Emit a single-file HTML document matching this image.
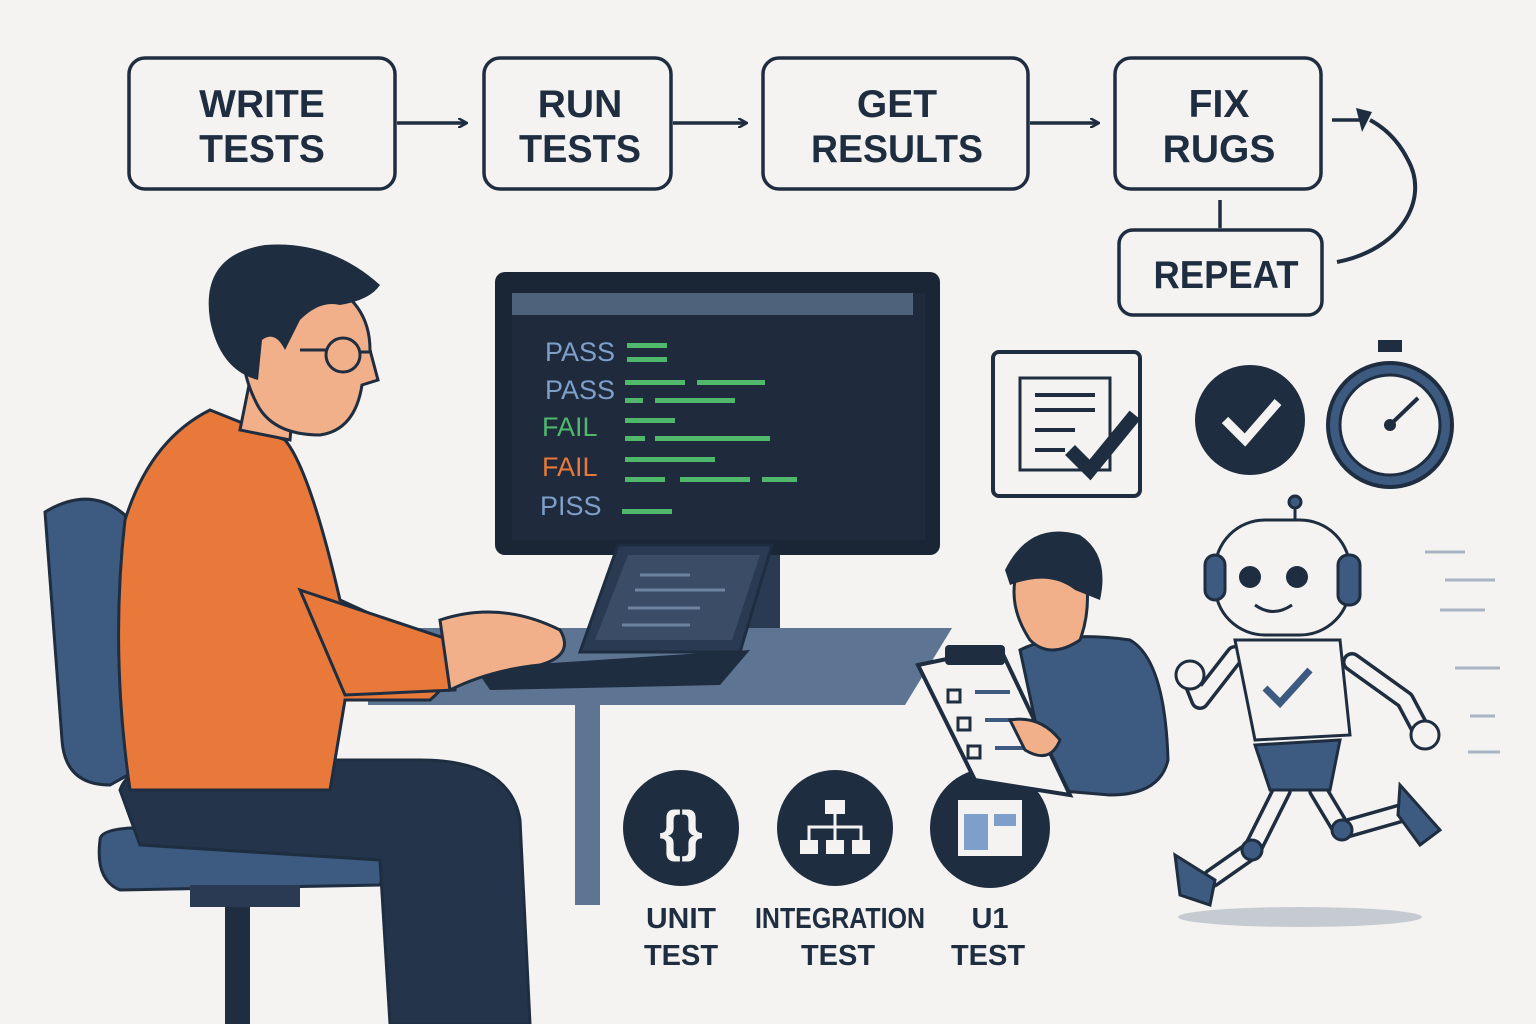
<!DOCTYPE html>
<html><head><meta charset="utf-8"><style>
html,body{margin:0;padding:0;background:#f4f3f1;}
svg{display:block;}
text{font-family:"Liberation Sans",sans-serif;font-weight:bold;fill:#1e2d40;}
</style></head><body>
<svg width="1536" height="1024" viewBox="0 0 1536 1024" xmlns="http://www.w3.org/2000/svg">
<rect width="1536" height="1024" fill="#f4f3f1"/>
<defs>
<marker id="ah" markerWidth="10" markerHeight="10" refX="8" refY="5" orient="auto" markerUnits="userSpaceOnUse"><path d="M0,0 L9,5 L0,10" fill="none" stroke="#1e2d40" stroke-width="2.5"/></marker>
</defs>
<g fill="none" stroke="#1e2d40" stroke-width="3.5">
<rect x="129" y="58" width="266" height="131" rx="16"/>
<rect x="484" y="58" width="187" height="131" rx="16"/>
<rect x="763" y="58" width="265" height="131" rx="16"/>
<rect x="1115" y="58" width="206" height="131" rx="16"/>
<rect x="1119" y="230" width="203" height="85" rx="14"/>
<path d="M397 123 H466" marker-end="url(#ah)"/>
<path d="M673 123 H746" marker-end="url(#ah)"/>
<path d="M1030 123 H1098" marker-end="url(#ah)"/>
<path d="M1220 200 V228"/>
<path d="M1332 120 H1360"/>
<path d="M1337 262 C1400 250 1430 200 1408 160 C1398 140 1385 128 1370 120" stroke-width="4"/>
</g>
<path d="M1356 108 L1372 112 L1362 132 Z" fill="#1e2d40"/>
<g font-size="39" text-anchor="middle">
<text x="262" y="117">WRITE</text><text x="262" y="162">TESTS</text>
<text x="580" y="117">RUN</text><text x="580" y="162" textLength="122" lengthAdjust="spacingAndGlyphs">TESTS</text>
<text x="897" y="117">GET</text><text x="897" y="162" textLength="172" lengthAdjust="spacingAndGlyphs">RESULTS</text>
<text x="1219" y="117">FIX</text><text x="1219" y="162">RUGS</text>
<text x="1226" y="288" textLength="145" lengthAdjust="spacingAndGlyphs">REPEAT</text>
</g>
<!-- monitor -->
<rect x="720" y="545" width="60" height="100" fill="#2a3a52"/>
<rect x="700" y="636" width="104" height="16" fill="#1e2d40"/>
<rect x="495" y="272" width="445" height="283" rx="10" fill="#1a2536"/>
<rect x="512" y="293" width="413" height="247" fill="#1f2b3d"/>
<rect x="512" y="293" width="401" height="22" fill="#4f627b"/>
<g font-size="27">
<text x="545" y="361" style="fill:#7f9fcb;font-weight:normal">PASS</text>
<text x="545" y="399" style="fill:#7f9fcb;font-weight:normal">PASS</text>
<text x="542" y="436" style="fill:#4fb86a;font-weight:normal">FAIL</text>
<text x="542" y="476" style="fill:#e8793a;font-weight:normal">FAIL</text>
<text x="540" y="515" style="fill:#7f9fcb;font-weight:normal">PISS</text>
</g>
<g fill="#4fb86a">
<rect x="627" y="343" width="40" height="5"/><rect x="627" y="357" width="40" height="5"/>
<rect x="625" y="380" width="60" height="5"/><rect x="697" y="380" width="68" height="5"/>
<rect x="625" y="398" width="18" height="5"/><rect x="655" y="398" width="80" height="5"/>
<rect x="625" y="418" width="50" height="5"/><rect x="625" y="436" width="20" height="5"/><rect x="655" y="436" width="115" height="5"/>
<rect x="625" y="457" width="90" height="5"/><rect x="625" y="477" width="40" height="5"/><rect x="680" y="477" width="70" height="5"/><rect x="762" y="477" width="35" height="5"/>
<rect x="622" y="509" width="50" height="5"/>
</g>
<!-- desk -->
<polygon points="368,628 952,628 905,705 368,705" fill="#5d7593"/>
<rect x="575" y="705" width="25" height="200" fill="#5d7593"/>
<!-- laptop -->
<polygon points="580,652 618,545 772,545 740,652" fill="#2a3a52" stroke="#1e2d40" stroke-width="3"/>
<polygon points="595,640 628,555 760,555 732,640" fill="#3b4d66"/>
<g stroke="#6f84a0" stroke-width="3"><path d="M640 575 H690 M635 590 H725 M628 608 H700 M622 625 H690"/></g>
<polygon points="475,668 750,650 720,685 490,690" fill="#1e2d40"/>
<!-- chair -->
<path d="M45 512 Q90 485 125 515 L155 760 L110 785 Q65 785 62 740 Z" fill="#3d5a80" stroke="#1e2d40" stroke-width="3"/>
<rect x="185" y="730" width="145" height="20" rx="8" fill="#1e2d40"/>
<path d="M100 840 Q100 830 130 828 L380 835 Q390 860 380 885 L120 890 Q95 880 100 840Z" fill="#3d5a80" stroke="#1e2d40" stroke-width="3"/>
<rect x="225" y="890" width="25" height="134" fill="#1e2d40"/>
<rect x="190" y="885" width="110" height="22" fill="#2a3a52"/>
<!-- pants -->
<path d="M120 790 Q130 760 200 760 L420 760 Q510 760 520 820 L530 1024 L390 1024 L380 860 L140 845 Z" fill="#24344b" stroke="#1e2d40" stroke-width="3"/>
<!-- torso orange -->
<path d="M210 410 Q150 440 125 520 Q110 650 130 790 L330 790 L345 700 L430 700 Q455 680 450 650 L340 600 Q310 470 285 440 Z" fill="#e8793a" stroke="#1e2d40" stroke-width="3"/>
<path d="M300 590 L450 640 L455 690 L345 695 Z" fill="#e8793a" stroke="#1e2d40" stroke-width="3"/>
<!-- hands -->
<path d="M440 620 Q500 600 560 630 Q575 655 540 665 Q490 670 450 690 Z" fill="#f1b08a" stroke="#1e2d40" stroke-width="3"/>
<!-- neck & head -->
<path d="M250 380 L295 380 L290 440 L240 430 Z" fill="#f1b08a" stroke="#1e2d40" stroke-width="3"/>
<path d="M245 300 Q260 260 320 280 Q370 300 370 350 L378 380 L362 385 Q355 430 320 435 Q270 435 255 400 Q235 360 245 300Z" fill="#f1b08a" stroke="#1e2d40" stroke-width="3"/>
<path d="M210 320 Q200 255 265 245 Q330 240 380 285 Q370 300 340 305 Q320 300 300 320 L285 350 Q275 330 262 340 L258 380 Q220 370 210 320Z" fill="#1e2d40"/>
<circle cx="343" cy="355" r="17" fill="none" stroke="#1e2d40" stroke-width="3"/>
<path d="M300 350 H327 M360 352 H372" stroke="#1e2d40" stroke-width="3"/>
<!-- unit circles -->
<circle cx="681" cy="828" r="58" fill="#1e2d40"/>
<circle cx="835" cy="828" r="58" fill="#1e2d40"/>
<circle cx="990" cy="828" r="60" fill="#1e2d40"/>
<text x="681" y="850" font-size="56" text-anchor="middle" style="fill:#f4f3f1">{}</text>
<g fill="#f4f3f1"><rect x="825" y="800" width="20" height="14"/><rect x="800" y="840" width="18" height="14"/><rect x="826" y="840" width="18" height="14"/><rect x="852" y="840" width="18" height="14"/></g>
<path d="M835 814 V840 M809 840 V827 H861 V840" stroke="#f4f3f1" stroke-width="3" fill="none"/>
<rect x="958" y="800" width="64" height="56" fill="#f4f3f1"/><rect x="964" y="814" width="24" height="36" fill="#7f9fcb"/><rect x="994" y="814" width="22" height="12" fill="#7f9fcb"/>
<g font-size="29" text-anchor="middle">
<text x="681" y="928" textLength="70" lengthAdjust="spacingAndGlyphs">UNIT</text><text x="681" y="965">TEST</text>
<text x="840" y="928" textLength="170" lengthAdjust="spacingAndGlyphs">INTEGRATION</text><text x="838" y="965">TEST</text>
<text x="990" y="928">U1</text><text x="988" y="965">TEST</text>
</g>
<!-- icons right -->
<rect x="993" y="352" width="147" height="144" rx="6" fill="#f4f3f1" stroke="#1e2d40" stroke-width="4"/>
<rect x="1020" y="378" width="90" height="92" fill="none" stroke="#1e2d40" stroke-width="3"/>
<path d="M1035 395 H1095 M1035 410 H1095 M1035 430 H1075 M1035 450 H1065" stroke="#1e2d40" stroke-width="4"/>
<path d="M1070 450 L1090 470 L1135 415" stroke="#1e2d40" stroke-width="14" fill="none"/>
<circle cx="1250" cy="420" r="55" fill="#1e2d40"/>
<path d="M1225 420 L1245 440 L1278 402" stroke="#f4f3f1" stroke-width="9" fill="none"/>
<rect x="1378" y="340" width="24" height="12" fill="#1e2d40"/>
<circle cx="1390" cy="425" r="62" fill="#3d5a80" stroke="#1e2d40" stroke-width="4"/>
<circle cx="1390" cy="425" r="50" fill="#f4f3f1" stroke="#1e2d40" stroke-width="3"/>
<path d="M1390 425 L1418 398" stroke="#1e2d40" stroke-width="4"/><circle cx="1390" cy="425" r="6" fill="#1e2d40"/>
<!-- small person -->
<path d="M1020 650 Q1060 630 1130 640 Q1165 660 1168 760 Q1160 795 1110 795 L1050 790 Z" fill="#3d5a80" stroke="#1e2d40" stroke-width="3"/>
<path d="M1015 580 Q1030 540 1080 550 Q1095 600 1080 640 Q1050 660 1030 640 Q1010 610 1015 580Z" fill="#f1b08a" stroke="#1e2d40" stroke-width="3"/>
<path d="M1005 570 Q1030 520 1080 535 Q1110 555 1100 600 L1075 590 Q1050 570 1010 585Z" fill="#1e2d40"/>
<polygon points="918,665 1000,648 1070,795 975,780" fill="#f4f3f1" stroke="#1e2d40" stroke-width="4"/>
<rect x="945" y="645" width="60" height="20" rx="4" fill="#1e2d40"/>
<g fill="none" stroke="#1e2d40" stroke-width="3"><rect x="948" y="690" width="12" height="12"/><rect x="958" y="718" width="12" height="12"/><rect x="968" y="746" width="12" height="12"/></g>
<path d="M975 692 H1010 M985 720 H1020 M995 748 H1030" stroke="#3d5a80" stroke-width="4"/>
<path d="M1010 720 Q1040 715 1060 740 Q1050 765 1025 750Z" fill="#f1b08a" stroke="#1e2d40" stroke-width="3"/>
<!-- robot -->
<ellipse cx="1300" cy="917" rx="122" ry="10" fill="#c6cbd2"/>
<g fill="none" stroke-linecap="round" stroke-linejoin="round">
<g stroke="#1e2d40" stroke-width="20">
<path d="M1235 655 L1200 700 L1190 675"/><path d="M1352 662 L1405 700 L1422 732"/>
<path d="M1282 790 L1252 850 L1212 878"/><path d="M1318 790 L1342 830 L1405 812"/>
</g>
<g stroke="#f4f3f1" stroke-width="13">
<path d="M1235 655 L1200 700 L1190 675"/><path d="M1352 662 L1405 700 L1422 732"/>
<path d="M1282 790 L1252 850 L1212 878"/><path d="M1318 790 L1342 830 L1405 812"/>
</g>
</g>
<g stroke="#1e2d40" stroke-width="3">
<path d="M1295 520 V505"/><circle cx="1295" cy="502" r="6" fill="#3d5a80"/>
<rect x="1215" y="520" width="135" height="115" rx="50" fill="#f4f3f1"/>
<rect x="1205" y="555" width="20" height="45" rx="10" fill="#3d5a80"/><rect x="1338" y="555" width="22" height="50" rx="10" fill="#3d5a80"/>
<path d="M1235 640 L1340 640 L1350 735 L1255 740 Z" fill="#f4f3f1"/>
<path d="M1255 745 L1340 740 L1330 790 L1270 790Z" fill="#3d5a80"/>
<circle cx="1190" cy="675" r="14" fill="#f4f3f1"/>
<circle cx="1425" cy="735" r="14" fill="#f4f3f1"/>
<circle cx="1252" cy="850" r="10" fill="#3d5a80"/><circle cx="1342" cy="830" r="10" fill="#3d5a80"/>
<path d="M1175 855 L1215 880 L1210 905 L1180 895Z" fill="#3d5a80"/>
<path d="M1400 785 L1440 830 L1420 845 L1398 815Z" fill="#3d5a80"/>
</g>
<circle cx="1250" cy="577" r="11" fill="#1e2d40"/><circle cx="1297" cy="577" r="11" fill="#1e2d40"/>
<path d="M1255 605 Q1273 618 1292 605" stroke="#1e2d40" stroke-width="3" fill="none"/>
<path d="M1265 688 L1280 703 L1310 670" stroke="#3d5a80" stroke-width="7" fill="none"/>
<g stroke="#a9b4c2" stroke-width="3"><path d="M1425 552 H1465 M1445 580 H1495 M1440 610 H1485 M1455 668 H1500 M1470 716 H1495 M1468 752 H1500"/></g>
</svg>
</body></html>
